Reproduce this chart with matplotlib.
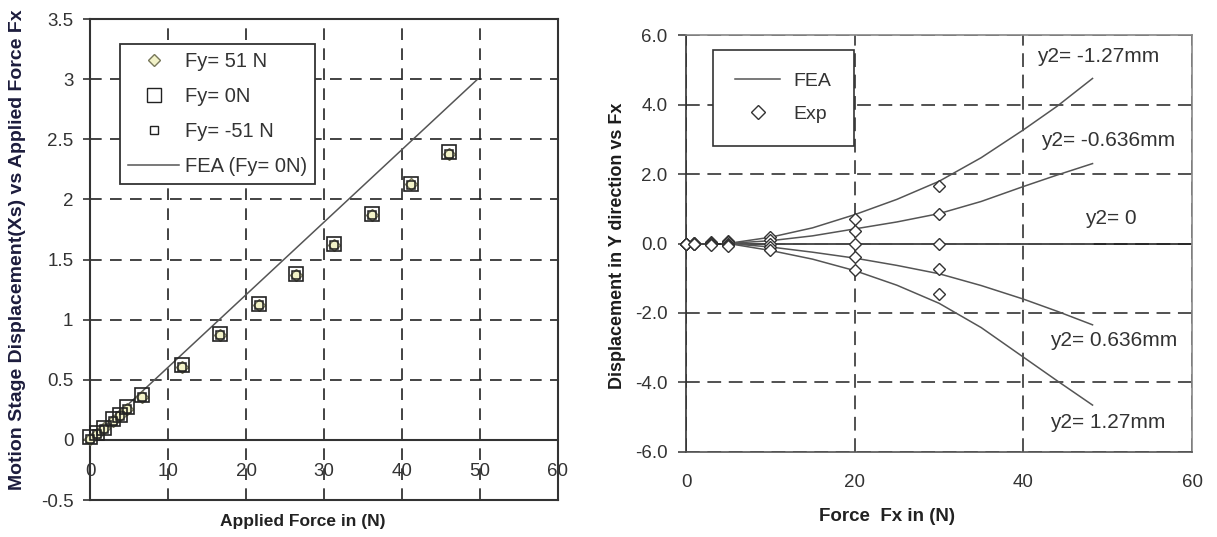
import matplotlib.pyplot as plt
from matplotlib.lines import Line2D
from matplotlib.ticker import FuncFormatter

plt.rcParams['font.family'] = ['Liberation Sans', 'DejaVu Sans']

# left chart: stage displacement Xs vs applied force Fx
fx_exp = [0, 0.9, 1.8, 2.9, 3.9, 4.8, 6.7, 11.8, 16.6, 21.6, 26.4, 31.3, 36.2, 41.1, 46.0]
xs_fy_pos51 = [0.01, 0.05, 0.10, 0.16, 0.21, 0.26, 0.36, 0.61, 0.87, 1.12, 1.37, 1.62, 1.87, 2.13, 2.38]
xs_fy_0 = [0.02, 0.06, 0.10, 0.17, 0.21, 0.27, 0.37, 0.62, 0.88, 1.13, 1.38, 1.63, 1.88, 2.13, 2.39]
xs_fy_neg51 = [0.01, 0.05, 0.09, 0.16, 0.20, 0.26, 0.36, 0.61, 0.87, 1.12, 1.37, 1.62, 1.87, 2.12, 2.38]
fx_fea = [0, 49.7]
xs_fea = [0, 3.0]

# right chart: displacement in Y direction vs Fx
fx_y_exp = [0, 1, 3, 5, 10, 20, 30]
exp_y2 = {
    "y2= -1.27mm": [0, 0.01, 0.03, 0.06, 0.20, 0.70, 1.65],
    "y2= -0.636mm": [0, 0.005, 0.02, 0.04, 0.10, 0.35, 0.85],
    "y2= 0": [0, 0, 0, 0, 0, 0, 0],
    "y2= 0.636mm": [0, -0.005, -0.02, -0.04, -0.10, -0.40, -0.72],
    "y2= 1.27mm": [0, -0.01, -0.03, -0.06, -0.20, -0.75, -1.45],
}
fx_y_fea = [5.5, 10, 15, 20, 25, 30, 35, 40, 44, 48.2]
fea_y2 = {
    "y2= -1.27mm": [0.02, 0.18, 0.45, 0.83, 1.27, 1.79, 2.47, 3.27, 3.95, 4.75],
    "y2= -0.636mm": [0.01, 0.08, 0.22, 0.42, 0.62, 0.86, 1.21, 1.64, 1.97, 2.30],
    "y2= 0": [0, 0, 0, 0, 0, 0, 0, 0, 0, 0],
    "y2= 0.636mm": [-0.01, -0.10, -0.25, -0.42, -0.63, -0.87, -1.21, -1.60, -1.95, -2.34],
    "y2= 1.27mm": [-0.02, -0.20, -0.45, -0.78, -1.20, -1.72, -2.42, -3.27, -3.95, -4.65],
}
label_pos = {
    "y2= -1.27mm": (41.6, 5.38),
    "y2= -0.636mm": (42.1, 2.97),
    "y2= 0": (47.3, 0.71),
    "y2= 0.636mm": (43.1, -2.78),
    "y2= 1.27mm": (43.1, -5.14),
}

fig = plt.figure(figsize=(12.17, 5.37), dpi=100)

# ---------------- left
ax = fig.add_axes([0.0740, 0.0689, 0.3845, 0.8957])
ax.set_xlim(0, 60)
ax.set_ylim(-0.5, 3.5)
ax.set_xticks(range(0, 61, 10))
ax.set_yticks([-0.5, 0, 0.5, 1, 1.5, 2, 2.5, 3, 3.5])
ax.yaxis.set_major_formatter(FuncFormatter(lambda v, p: "%g" % v))
ax.grid(True, ls=(0, (7, 5)), color="#222222", lw=1.2)
ax.axhline(0, color="#333333", lw=1.5, zorder=2)
for s in ax.spines.values():
    s.set_color("#333333")
    s.set_linewidth(1.5)
ax.tick_params(axis="y", direction="out", length=5, width=1.2, pad=7,
               labelsize=13.5, labelcolor="#333333", color="#333333")
ax.tick_params(axis="x", length=0, pad=-27, labelsize=13.5, labelcolor="#333333")

ax.plot(fx_fea, xs_fea, color="#555555", lw=1.1, zorder=3)
ax.plot(fx_exp, xs_fy_pos51, "D", ms=6, mfc="#f2f2c8", mec="#77775a", mew=1,
        ls="none", zorder=4, clip_on=False)
ax.plot(fx_exp, xs_fy_0, "s", ms=10, mfc="none", mec="#222222", mew=1.2,
        ls="none", zorder=5, clip_on=False)
ax.plot(fx_exp, xs_fy_neg51, "s", ms=6, mfc="none", mec="#222222", mew=1.1,
        ls="none", zorder=5, clip_on=False)

handles = [
    Line2D([], [], marker="D", ms=6, mfc="#f2f2c8", mec="#77775a", ls="none"),
    Line2D([], [], marker="s", ms=10, mfc="white", mec="#222222", ls="none"),
    Line2D([], [], marker="s", ms=6, mfc="white", mec="#222222", ls="none"),
    Line2D([], [], color="#555555", lw=1.1),
]
leg = ax.legend(handles, ["Fy= 51 N", "Fy= 0N", "Fy= -51 N", "FEA (Fy= 0N)"],
                loc="upper left", bbox_to_anchor=(0.064, 0.948), borderaxespad=0,
                fontsize=14.5, fancybox=False, framealpha=1, edgecolor="#333333",
                handlelength=2.5, handletextpad=0.3, labelspacing=0.78, borderpad=0.42)
leg.get_frame().set_linewidth(1.3)
for t in leg.get_texts():
    t.set_color("#333333")

ax.set_ylabel("Motion Stage Displacement(Xs) vs Applied Force Fx", fontsize=14,
              fontweight="bold", color="#1c1c3c")
ax.yaxis.set_label_coords(-0.136, 0.52)
ax.set_xlabel("Applied Force in (N)", fontsize=12.5, fontweight="bold", color="#222222")
ax.xaxis.set_label_coords(0.455, -0.029)

# ---------------- right
ax2 = fig.add_axes([0.5637, 0.1583, 0.4158, 0.7765])
ax2.set_xlim(0, 60)
ax2.set_ylim(-6, 6)
ax2.set_xticks([0, 20, 40, 60])
ax2.set_yticks(range(-6, 7, 2))
ax2.yaxis.set_major_formatter(FuncFormatter(lambda v, p: "%.1f" % v))
ax2.grid(True, ls=(0, (9, 5)), color="#222222", lw=1.1)
ax2.axhline(0, color="#222222", lw=1.2, zorder=2)
ax2.spines["left"].set_color("#333333")
ax2.spines["bottom"].set_color("#555555")
ax2.spines["top"].set_color("#888888")
ax2.spines["right"].set_color("#888888")
for s in ax2.spines.values():
    s.set_linewidth(1.2)
ax2.tick_params(axis="y", direction="out", length=6, width=1.1, pad=7.5,
                labelsize=13.5, labelcolor="#333333", color="#333333")
ax2.tick_params(axis="x", length=0, pad=16, labelsize=13.5, labelcolor="#333333")

for name in fea_y2:
    ax2.plot(fx_y_fea, fea_y2[name], color="#555555", lw=1.1, zorder=3)
    ax2.plot(fx_y_exp, exp_y2[name], "D", ms=6.5, mfc="white", mec="#333333",
             mew=1, ls="none", zorder=4, clip_on=False)
    ax2.text(label_pos[name][0], label_pos[name][1], name, fontsize=15,
             color="#333333", va="center", ha="left")

handles2 = [
    Line2D([], [], color="#555555", lw=1.1),
    Line2D([], [], marker="D", ms=7.5, mfc="white", mec="#333333", ls="none"),
]
leg2 = ax2.legend(handles2, ["FEA", "Exp"], loc="upper left",
                  bbox_to_anchor=(0.053, 0.964), borderaxespad=0, fontsize=14,
                  fancybox=False, framealpha=1, edgecolor="#333333",
                  handlelength=2.3, handletextpad=0.7, labelspacing=0.8,
                  borderpad=1.15)
leg2.get_frame().set_linewidth(1.2)
for t in leg2.get_texts():
    t.set_color("#333333")

ax2.set_ylabel("Displacement in Y direction vs Fx", fontsize=13, fontweight="bold",
               color="#1c1c1c")
ax2.yaxis.set_label_coords(-0.119, 0.494)
ax2.set_xlabel("Force  Fx in (N)", fontsize=13.5, fontweight="bold", color="#222222")
ax2.xaxis.set_label_coords(0.397, -0.134)

plt.savefig("out.png", dpi=100)
